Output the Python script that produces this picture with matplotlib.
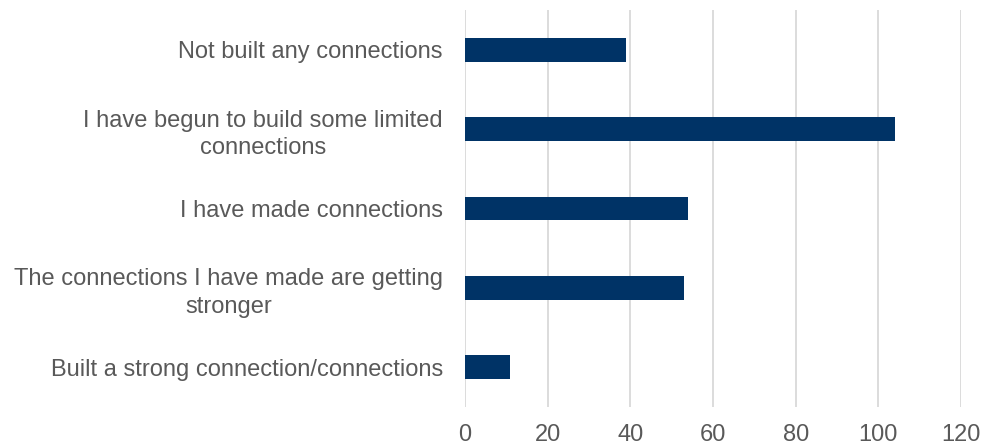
import matplotlib
matplotlib.use("Agg")
import matplotlib.pyplot as plt

categories = [
    "Not built any connections",
    "I have begun to build some limited\nconnections",
    "I have made connections",
    "The connections I have made are getting\nstronger",
    "Built a strong connection/connections",
]
values = [39, 104, 54, 53, 11]
xticks = [0, 20, 40, 60, 80, 100, 120]

plt.rcParams['font.family'] = ['Liberation Sans', 'DejaVu Sans']

fig = plt.figure(figsize=(9.84, 4.45), dpi=100)
ax = fig.add_axes([465/984, 1-407/445, 496/984, 397/445])

y = list(range(len(categories)))
ax.barh(y, values, height=0.3, color="#003366", zorder=3)
ax.set_ylim(len(categories)-0.5, -0.5)
ax.set_xlim(0, 120)
ax.set_xticks(xticks)
ax.set_xticklabels([str(t) for t in xticks])
ax.set_yticks(y)
ax.set_yticklabels(categories, ha='right', multialignment='center', linespacing=1.3)

ax.grid(axis='x', color='#d9d9d9', linewidth=1.3, zorder=0)
for s in ax.spines.values():
    s.set_visible(False)
ax.tick_params(axis='both', length=0, colors='#595959', labelsize=17)
ax.tick_params(axis='x', pad=12)
ax.tick_params(axis='y', pad=16)

fig.savefig("out.png", dpi=100)
